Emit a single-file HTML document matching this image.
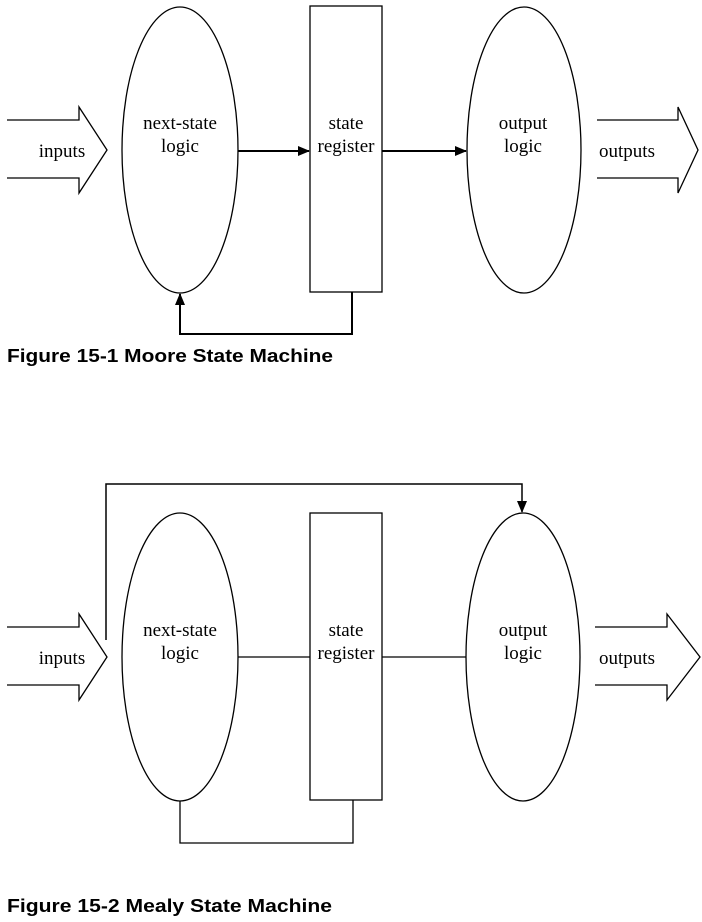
<!DOCTYPE html>
<html><head><style>body{margin:0;background:#fff}svg{display:block}</style></head><body>
<svg width="702" height="922" viewBox="0 0 702 922" xmlns="http://www.w3.org/2000/svg">
<defs><marker id="a" markerWidth="12" markerHeight="12" refX="11" refY="6" orient="auto" markerUnits="userSpaceOnUse"><path d="M0,1 L12,6 L0,11 z" fill="#000"/></marker></defs>
<g fill="none" stroke="#000" stroke-width="1.3">
<path d="M7,120 H79 V107 L107,150 L79,193 V178 H7"/>
<ellipse cx="180" cy="150" rx="58" ry="143"/>
<rect x="310" y="6" width="72" height="286"/>
<ellipse cx="524" cy="150" rx="57" ry="143"/>
<path d="M597,120 H678 V107 L698,150 L678,193 V178 H597"/>
<path d="M238,151 H309" stroke-width="2" marker-end="url(#a)"/>
<path d="M382,151 H466" stroke-width="2" marker-end="url(#a)"/>
<path d="M352,292 V334 H180 V294" stroke-width="2" marker-end="url(#a)"/>
<path d="M7,627 H79 V614 L107,657 L79,700 V685 H7"/>
<ellipse cx="180" cy="657" rx="58" ry="144"/>
<rect x="310" y="513" width="72" height="287"/>
<ellipse cx="523" cy="657" rx="57" ry="144"/>
<path d="M595,627 H667 V614 L700,657 L667,700 V685 H595"/>
<path d="M238,657 H310"/>
<path d="M382,657 H466"/>
<path d="M106,640 V484 H522 V512" stroke-width="1.5" marker-end="url(#a)"/>
<path d="M180,801 V843 H353 V800"/>
</g>
<g font-family="Liberation Serif, serif" font-size="19" text-anchor="middle" fill="#000">
<text x="62" y="157">inputs</text>
<text x="180" y="129">next-state</text><text x="180" y="152">logic</text>
<text x="346" y="129">state</text><text x="346" y="152">register</text>
<text x="523" y="129">output</text><text x="523" y="152">logic</text>
<text x="627" y="157">outputs</text>
<text x="62" y="664">inputs</text>
<text x="180" y="636">next-state</text><text x="180" y="659">logic</text>
<text x="346" y="636">state</text><text x="346" y="659">register</text>
<text x="523" y="636">output</text><text x="523" y="659">logic</text>
<text x="627" y="664">outputs</text>
</g>
<g font-family="Liberation Sans, sans-serif" font-size="18" font-weight="bold" fill="#000">
<text x="7" y="362" textLength="326" lengthAdjust="spacingAndGlyphs">Figure 15-1 Moore State Machine</text>
<text x="7" y="912" textLength="325" lengthAdjust="spacingAndGlyphs">Figure 15-2 Mealy State Machine</text>
</g>
</svg>
</body></html>
